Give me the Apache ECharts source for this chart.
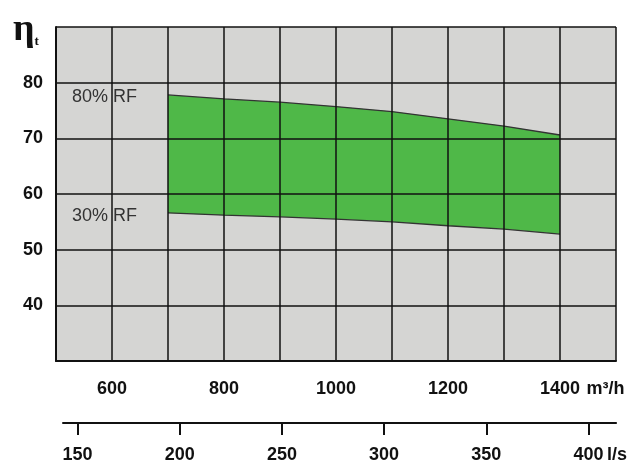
<!DOCTYPE html>
<html><head><meta charset="utf-8">
<script src="https://cdn.jsdelivr.net/npm/echarts@6/dist/echarts.min.js"></script>
<style>html,body{margin:0;padding:0;background:#fff}#c{width:630px;height:464px}</style>
</head><body><div id="c"></div>
<script>
// Data
const flowM3h = [700, 800, 900, 1000, 1100, 1200, 1300, 1400];
const rf80 = [77.8, 77.1, 76.5, 75.7, 74.8, 73.5, 72.2, 70.6];
const rf30 = [56.6, 56.2, 55.9, 55.5, 55.0, 54.3, 53.7, 52.8];
const yTickLabels = [40, 50, 60, 70, 80];
const m3hTickLabels = [600, 800, 1000, 1200, 1400];
const lsTickLabels = [150, 200, 250, 300, 350, 400];
const seriesNames = ['80% RF', '30% RF'];

const BG = '#d5d5d3';
const GREEN = '#4fb848';
const NUMFONT = '"Liberation Sans", Arial, sans-serif';

function pts(ys, name, dy) {
  return flowM3h.map((x, i) => {
    const p = { value: [x, ys[i]] };
    if (i === 0) {
      p.label = { show: true, formatter: name, position: 'left', distance: 31, offset: [0, dy],
        color: '#333', fontSize: 18, fontFamily: '"Liberation Sans", Arial, sans-serif' };
    }
    return p;
  });
}

const chart = echarts.init(document.getElementById('c'), null, { renderer: 'canvas' });
chart.setOption({
  backgroundColor: '#fff',
  animation: false,
  title: {
    text: '{a|η}{b|t}', left: 8, top: 6,
    textStyle: { rich: {
      a: { fontFamily: '"Liberation Serif", "DejaVu Serif", serif', fontWeight: 'bold', fontSize: 38, color: '#111' },
      b: { fontFamily: '"Liberation Serif", serif', fontSize: 13, color: '#111', padding: [24, 0, 0, 0] }
    } }
  },
  grid: [
    { left: 56, right: 14, top: 27, bottom: 103, show: true, backgroundColor: BG, borderWidth: 0 },
    { left: 63, right: 8, top: 422, bottom: 41 }
  ],
  xAxis: [
    { type: 'value', gridIndex: 0, min: 500, max: 1500, interval: 100, z: 5,
      axisLine: { show: true, lineStyle: { color: '#111', width: 2 } },
      axisTick: { show: false },
      splitLine: { show: true, lineStyle: { color: '#111', width: 1.5 } },
      axisLabel: {
        margin: 19,
        formatter: function (v) {
          if (m3hTickLabels.indexOf(v) < 0) return '';
          if (v === m3hTickLabels[m3hTickLabels.length - 1]) return '{sp|}{n|' + v + '}{u| m³/h}';
          return '{n|' + v + '}';
        },
        rich: {
          n: { fontFamily: NUMFONT, fontWeight: 'bold', fontSize: 18, color: '#111' },
          u: { fontFamily: NUMFONT, fontWeight: 'bold', fontSize: 18, color: '#111', width: 46, align: 'left' },
          sp: { width: 46 }
        }
      }
    },
    { type: 'value', gridIndex: 1, min: 142.9, max: 413.5, position: 'bottom', z: 5,
      axisLine: { show: true, lineStyle: { color: '#111', width: 2 } },
      axisTick: { show: true, length: 12, customValues: lsTickLabels, lineStyle: { color: '#111', width: 2 } },
      splitLine: { show: false },
      axisLabel: {
        margin: 23,
        customValues: lsTickLabels,
        formatter: function (v) {
          if (v === lsTickLabels[lsTickLabels.length - 1]) return '{sp|}{n|' + v + '}{u| l/s}';
          return '{n|' + v + '}';
        },
        rich: {
          n: { fontFamily: NUMFONT, fontWeight: 'bold', fontSize: 18, color: '#111' },
          u: { fontFamily: NUMFONT, fontWeight: 'bold', fontSize: 18, color: '#111', width: 22, align: 'left' },
          sp: { width: 22 }
        }
      }
    }
  ],
  yAxis: [
    { type: 'value', gridIndex: 0, min: 30, max: 90, interval: 10, z: 5,
      axisLine: { show: true, lineStyle: { color: '#111', width: 2 } },
      axisTick: { show: false },
      splitLine: { show: true, lineStyle: { color: '#111', width: 1.5 } },
      axisLabel: {
        margin: 13, fontFamily: NUMFONT, fontWeight: 'bold', fontSize: 18, color: '#111',
        formatter: function (v) { return yTickLabels.indexOf(v) < 0 ? '' : String(v); }
      }
    },
    { type: 'value', gridIndex: 1, show: false, min: 0, max: 1 }
  ],
  series: [
    { name: seriesNames[0], type: 'line', xAxisIndex: 0, yAxisIndex: 0,
      data: pts(rf80, seriesNames[0], 2),
      symbol: 'circle', symbolSize: 0, showSymbol: true,
      lineStyle: { color: '#333', width: 1.3 },
      itemStyle: { color: '#333' },
      areaStyle: { color: GREEN, opacity: 1, origin: 'start' }
    },
    { name: seriesNames[1], type: 'line', xAxisIndex: 0, yAxisIndex: 0,
      data: pts(rf30, seriesNames[1], 3),
      symbol: 'circle', symbolSize: 0, showSymbol: true,
      lineStyle: { color: '#333', width: 1.3 },
      itemStyle: { color: '#333' },
      areaStyle: { color: BG, opacity: 1, origin: 'start' }
    }
  ]
});
</script></body></html>
